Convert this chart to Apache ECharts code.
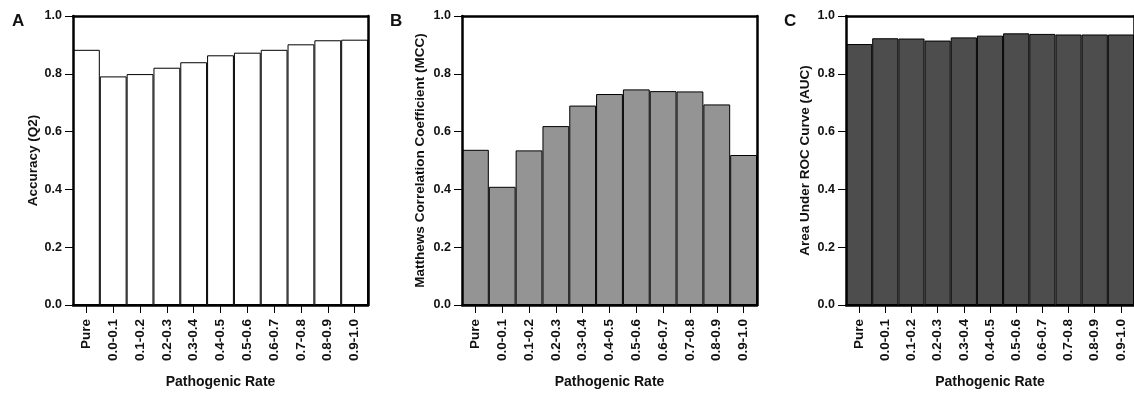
<!DOCTYPE html>
<html>
<head>
<meta charset="utf-8">
<script src="https://cdn.jsdelivr.net/npm/echarts@6/dist/echarts.min.js"></script>
<style>
html,body{margin:0;padding:0;background:#fff;}
#main{width:1134px;height:394px;}
</style>
</head>
<body>
<div id="main"></div>
<script>
var categories = ['Pure','0.0-0.1','0.1-0.2','0.2-0.3','0.3-0.4','0.4-0.5','0.5-0.6','0.6-0.7','0.7-0.8','0.8-0.9','0.9-1.0'];
var accuracy = [0.883, 0.791, 0.799, 0.821, 0.840, 0.864, 0.873, 0.883, 0.902, 0.916, 0.918];
var mcc = [0.537, 0.409, 0.535, 0.619, 0.690, 0.730, 0.746, 0.740, 0.739, 0.694, 0.519];
var auc = [0.903, 0.923, 0.922, 0.915, 0.926, 0.932, 0.940, 0.938, 0.936, 0.936, 0.936];
var yAxisNames = ['Accuracy (Q2)', 'Matthews Correlation Coefficient (MCC)', 'Area Under ROC Curve (AUC)'];
var xAxisName = 'Pathogenic Rate';
var panelLetters = ['A', 'B', 'C'];

var FONT = 'Liberation Sans, Arial, sans-serif';
var panels = [
  {data: accuracy, color: '#ffffff', left: 73, nameGap: 33, letterLeft: 12},
  {data: mcc, color: '#949494', left: 462, nameGap: 35, letterLeft: 390},
  {data: auc, color: '#4d4d4d', left: 846, nameGap: 34, letterLeft: 784}
];

var option = {
  backgroundColor: '#ffffff',
  animation: false,
  title: [], grid: [], xAxis: [], yAxis: [], series: []
};

panels.forEach(function (p, i) {
  option.title.push({
    text: panelLetters[i], left: p.letterLeft, top: 13, padding: 0,
    textStyle: {fontFamily: FONT, fontWeight: 'bold', fontSize: 17, color: '#111'}
  });
  option.grid.push({left: p.left, top: 16, width: 295, height: 290, containLabel: false});
  // bottom x axis
  option.xAxis.push({
    type: 'category', gridIndex: i, data: categories, position: 'bottom', z: 10,
    boundaryGap: true,
    name: xAxisName, nameLocation: 'middle', nameGap: 70,
    nameTextStyle: {fontFamily: FONT, fontWeight: 'bold', fontSize: 14, color: '#111'},
    axisLine: {show: true, onZero: false, lineStyle: {color: '#000', width: 2.5}},
    axisTick: {show: true, alignWithLabel: true, length: 8, lineStyle: {color: '#000', width: 1}},
    axisLabel: {rotate: 90, margin: 14, fontFamily: FONT, fontWeight: 'bold', fontSize: 13.5, color: '#111', interval: 0},
    splitLine: {show: false}
  });
  // top frame
  option.xAxis.push({
    type: 'category', gridIndex: i, data: categories, position: 'top', z: 10,
    axisLine: {show: true, onZero: false, lineStyle: {color: '#000', width: 2.5}},
    axisTick: {show: false}, axisLabel: {show: false}, splitLine: {show: false}
  });
  // left y axis
  option.yAxis.push({
    type: 'value', gridIndex: i, min: 0, max: 1, interval: 0.2, position: 'left', z: 10,
    name: yAxisNames[i], nameLocation: 'middle', nameGap: p.nameGap, nameRotate: 90,
    nameTextStyle: {fontFamily: FONT, fontWeight: 'bold', fontSize: 13.5, color: '#111'},
    axisLine: {show: true, onZero: false, lineStyle: {color: '#000', width: 2.5}},
    axisTick: {show: true, length: 8, lineStyle: {color: '#000', width: 1}},
    axisLabel: {margin: 11, fontFamily: FONT, fontWeight: 'bold', fontSize: 12.5, color: '#111',
      formatter: function (v) { return v.toFixed(1); }},
    splitLine: {show: false}
  });
  // right frame
  option.yAxis.push({
    type: 'value', gridIndex: i, min: 0, max: 1, interval: 0.2, position: 'right', z: 10,
    axisLine: {show: true, onZero: false, lineStyle: {color: '#000', width: 2.5}},
    axisTick: {show: false}, axisLabel: {show: false}, splitLine: {show: false}
  });
  option.series.push({
    type: 'bar', xAxisIndex: i * 2, yAxisIndex: i * 2, data: p.data,
    barCategoryGap: '0%',
    itemStyle: {color: p.color, borderColor: '#000', borderWidth: 1}
  });
});

var chart = echarts.init(document.getElementById('main'), null, {renderer: 'canvas'});
chart.setOption(option);
</script>
</body>
</html>
